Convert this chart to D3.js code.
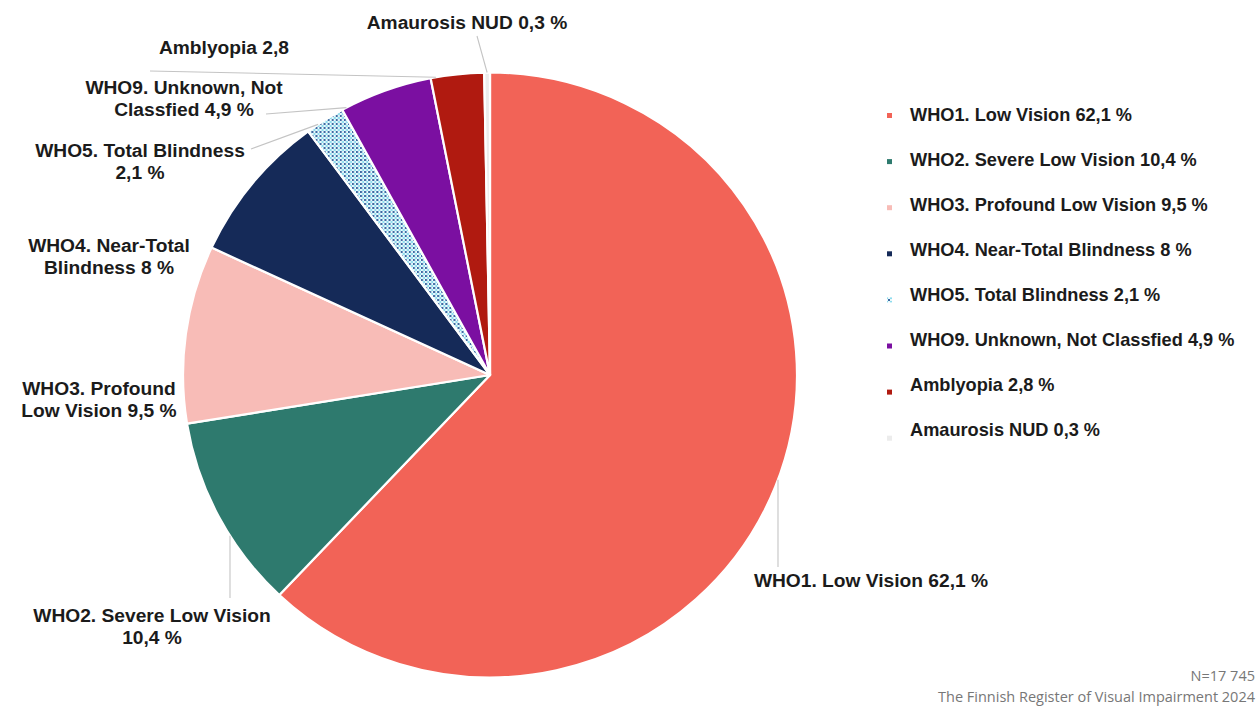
<!DOCTYPE html>
<html>
<head>
<meta charset="utf-8">
<script src="https://cdn.jsdelivr.net/npm/d3@7"></script>
<style>
  html, body { margin: 0; padding: 0; background: #ffffff; }
  svg { display: block; }
  .lbl { font-family: "Liberation Sans", Arial, sans-serif; font-weight: 700; fill: #1b1b1b; }
  .foot { font-family: "Open Sans", sans-serif; font-weight: 400; fill: #777777; }
</style>
</head>
<body>
<svg id="chart" width="1260" height="706"></svg>
<script>
// Visual impairment categories (share of register, %)
const categories = [
  "WHO1. Low Vision",
  "WHO2. Severe Low Vision",
  "WHO3. Profound Low Vision",
  "WHO4. Near-Total Blindness",
  "WHO5. Total Blindness",
  "WHO9. Unknown, Not Classfied",
  "Amblyopia",
  "Amaurosis NUD"
];
const shares = [62.1, 10.4, 9.5, 8, 2.1, 4.9, 2.8, 0.3];
const shareLabels = ["62,1 %", "10,4 %", "9,5 %", "8 %", "2,1 %", "4,9 %", "2,8 %", "0,3 %"];
const sliceColors = ["#f26357", "#2e7a6e", "#f8bcb7", "#152a58", "url(#grid5)", "#7b0fa1", "#b01a10", "#ececec"];

// Data label text (as printed beside the pie)
const pieLabelLines = [
  ["WHO1. Low Vision 62,1 %"],
  ["WHO2. Severe Low Vision", "10,4 %"],
  ["WHO3. Profound", "Low Vision 9,5 %"],
  ["WHO4. Near-Total", "Blindness 8 %"],
  ["WHO5. Total Blindness", "2,1 %"],
  ["WHO9. Unknown, Not", "Classfied 4,9 %"],
  ["Amblyopia 2,8"],
  ["Amaurosis NUD 0,3 %"]
];
const footNotes = ["N=17 745", "The Finnish Register of Visual Impairment 2024"];

const svg = d3.select("#chart");

// Pie geometry
const cx = 490, cy = 375, rx = 307, ry = 302.5;
const sx = rx / ry;

// Checkered fill for total blindness
const defs = svg.append("defs");
const pat = defs.append("pattern")
  .attr("id", "grid5").attr("patternUnits", "userSpaceOnUse")
  .attr("width", 4).attr("height", 4);
pat.append("rect").attr("width", 4).attr("height", 4).attr("fill", "#e9f9fc");
pat.append("rect").attr("x", 0).attr("y", 0).attr("width", 2).attr("height", 2).attr("fill", "#3c6aa3");
pat.append("rect").attr("x", 2).attr("y", 2).attr("width", 2).attr("height", 2).attr("fill", "#8edcee");

const pie = d3.pie().sort(null).value(d => d)
  .startAngle(0).endAngle(2 * Math.PI);
const arcs = pie(shares);
const arc = d3.arc().innerRadius(0).outerRadius(ry);

const gPie = svg.append("g")
  .attr("transform", `translate(${cx},${cy}) scale(${sx},1)`);
gPie.selectAll("path.slice")
  .data(arcs)
  .join("path")
  .attr("class", "slice")
  .attr("d", arc)
  .attr("fill", (d, i) => sliceColors[i])
  .attr("stroke", "#ffffff")
  .attr("stroke-width", 2.2)
  .attr("stroke-linejoin", "round");

// point on the rim at a given angle
function rim(a) {
  return [cx + rx * Math.sin(a), cy - ry * Math.cos(a)];
}
function rimYAtX(x, lower) {
  const t = (x - cx) / rx;
  const dy = ry * Math.sqrt(Math.max(0, 1 - t * t));
  return lower ? cy + dy : cy - dy;
}
function angleIn(i, f) {
  const d = arcs[i];
  return d.startAngle + f * (d.endAngle - d.startAngle);
}

// Label placement: centre x, first-line y, leader line
const lineH = 22;
const labelLayout = [
  { x: 871, y: 580, lead: { kind: "vert", x: 778, y0: 567, lower: true } },
  { x: 152, y: 615, lead: { kind: "vert", x: 230, y0: 598, lower: true } },
  { x: 99, y: 388, lead: null },
  { x: 109, y: 245, lead: null },
  { x: 140, y: 150, lead: { kind: "rim", x0: 251, y0: 149, f: 0.3 } },
  { x: 184, y: 87, lead: { kind: "rim", x0: 266, y0: 114, f: 0.05 } },
  { x: 224, y: 47, lead: { kind: "rim", x0: 150, y0: 71, f: 0.1 } },
  { x: 467, y: 22, lead: { kind: "rim", x0: 477, y0: 36, f: 0.5 } }
];

const gLead = svg.append("g");
labelLayout.forEach((L, i) => {
  if (!L.lead) return;
  let x1, y1, x2, y2;
  if (L.lead.kind === "vert") {
    x1 = L.lead.x; y1 = L.lead.y0;
    x2 = L.lead.x; y2 = rimYAtX(L.lead.x, L.lead.lower);
  } else {
    x1 = L.lead.x0; y1 = L.lead.y0;
    [x2, y2] = rim(angleIn(i, L.lead.f));
  }
  gLead.append("line")
    .attr("x1", x1).attr("y1", y1).attr("x2", x2).attr("y2", y2)
    .attr("stroke", "#c4c4c4").attr("stroke-width", 1.1);
});

const gLbl = svg.append("g");
labelLayout.forEach((L, i) => {
  const t = gLbl.append("text")
    .attr("class", "lbl")
    .attr("text-anchor", "middle")
    .attr("font-size", 19.2);
  pieLabelLines[i].forEach((s, k) => {
    t.append("tspan")
      .attr("x", L.x)
      .attr("y", L.y + k * lineH)
      .attr("dy", "0.35em")
      .text(s);
  });
});

// Legend
const legendY = d3.scalePoint().domain(categories).range([115, 430]);
const gLeg = svg.append("g");
const rows = gLeg.selectAll("g.row")
  .data(categories)
  .join("g")
  .attr("class", "row")
  .attr("transform", d => `translate(0,${legendY(d)})`);
rows.append("rect")
  .attr("x", 887).attr("y", (d, i) => -2 + i * 1.1)
  .attr("width", 5).attr("height", 5)
  .attr("fill", (d, i) => sliceColors[i]);
rows.append("text")
  .attr("class", "lbl")
  .attr("x", 910).attr("y", 0).attr("dy", "0.35em")
  .attr("font-size", 18.2)
  .text((d, i) => `${d} ${shareLabels[i]}`);

// Source notes
svg.append("g").selectAll("text")
  .data(footNotes)
  .join("text")
  .attr("class", "foot")
  .attr("text-anchor", "end")
  .attr("x", 1255)
  .attr("y", (d, i) => 676 + i * 21)
  .attr("dy", "0.35em")
  .attr("font-size", 14.5)
  .text(d => d);
</script>
</body>
</html>
